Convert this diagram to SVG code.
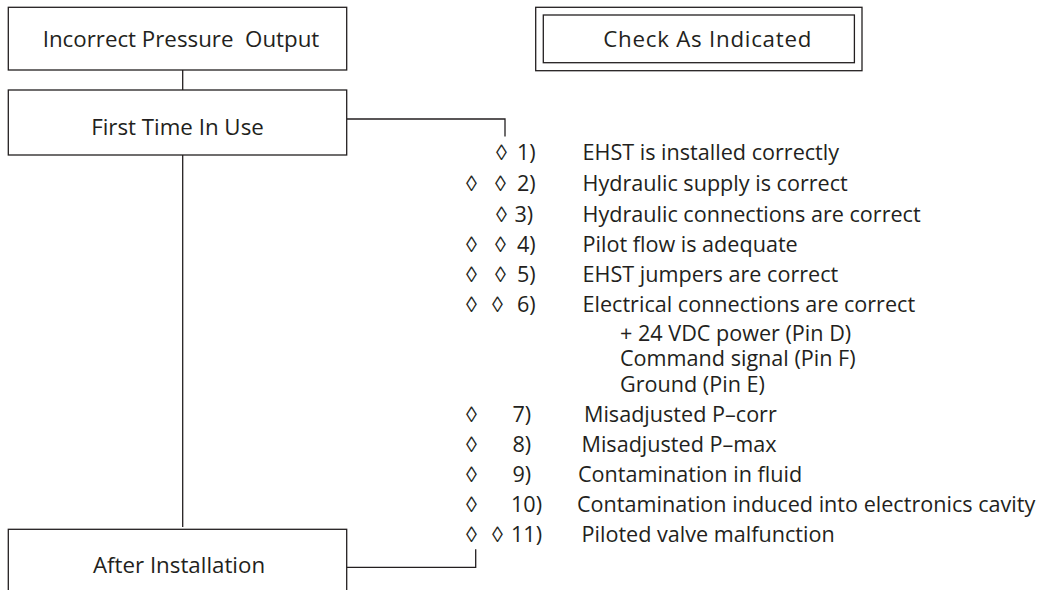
<svg xmlns="http://www.w3.org/2000/svg" width="1046" height="590" viewBox="0 0 1046 590">
  <style>
    .box { fill: #ffffff; stroke: #231f20; stroke-width: 1.3; }
    .wire { fill: none; stroke: #231f20; stroke-width: 1.3; }
    .lbl { font-family: "Open Sans", "Liberation Sans", sans-serif; font-size: 21.6px; fill: #231f20; white-space: pre; }
    .ttl { font-family: "Open Sans", "Liberation Sans", sans-serif; font-size: 22.3px; fill: #231f20; white-space: pre; }
    .dia { font-family: "Liberation Sans", "DejaVu Sans", sans-serif; font-size: 22px; fill: #231f20; }
  </style>
  <rect width="1046" height="590" fill="#ffffff"/>

  <!-- connectors -->
  <g id="connectors">
    <line class="wire" x1="182.7" y1="70" x2="182.7" y2="90"/>
    <line class="wire" x1="182.7" y1="155" x2="182.7" y2="527"/>
    <polyline class="wire" points="346.7,119 505,119 505,136.5"/>
    <polyline class="wire" points="346.7,567.3 475.7,567.3 475.7,549.3"/>
  </g>

  <!-- flow boxes -->
  <g id="node-incorrect-pressure">
    <rect class="box" x="8.3" y="7.3" width="338.4" height="62.7"/>
    <text class="ttl" x="42.7" y="46.7">Incorrect Pressure  Output</text>
  </g>
  <g id="node-first-time">
    <rect class="box" x="8.3" y="90" width="338.4" height="65"/>
    <text class="ttl" x="177.5" y="135" text-anchor="middle">First Time In Use</text>
  </g>
  <g id="node-after-installation">
    <rect class="box" x="8.3" y="529.3" width="338.4" height="70"/>
    <text class="ttl" x="179" y="572.7" text-anchor="middle">After Installation</text>
  </g>
  <g id="node-legend">
    <rect class="box" x="535.7" y="7.3" width="326.3" height="63.4"/>
    <rect class="box" x="543.3" y="15" width="311.1" height="47.7"/>
    <text class="ttl" x="603.3" y="46.7" letter-spacing="0.75">Check As Indicated</text>
  </g>

  <!-- checklist -->
  <g id="checklist">
    <text class="dia" x="496" y="160">◊</text>
    <text class="lbl" x="517" y="160">1)</text>
    <text class="lbl" x="582.5" y="160">EHST is installed correctly</text>

    <text class="dia" x="466" y="191">◊</text>
    <text class="dia" x="495" y="191">◊</text>
    <text class="lbl" x="517" y="191">2)</text>
    <text class="lbl" x="582.5" y="191">Hydraulic supply is correct</text>

    <text class="dia" x="496" y="221.5">◊</text>
    <text class="lbl" x="514.5" y="221.5">3)</text>
    <text class="lbl" x="582.5" y="221.5">Hydraulic connections are correct</text>

    <text class="dia" x="466" y="251.5">◊</text>
    <text class="dia" x="495" y="251.5">◊</text>
    <text class="lbl" x="517" y="251.5">4)</text>
    <text class="lbl" x="582.5" y="251.5">Pilot flow is adequate</text>

    <text class="dia" x="466" y="281.5">◊</text>
    <text class="dia" x="495" y="281.5">◊</text>
    <text class="lbl" x="517" y="281.5">5)</text>
    <text class="lbl" x="582.5" y="281.5">EHST jumpers are correct</text>

    <text class="dia" x="466" y="311.5">◊</text>
    <text class="dia" x="492" y="311.5">◊</text>
    <text class="lbl" x="517" y="311.5">6)</text>
    <text class="lbl" x="582.5" y="311.5">Electrical connections are correct</text>
    <text class="lbl" x="620" y="340.5">+ 24 VDC power (Pin D)</text>
    <text class="lbl" x="620" y="366">Command signal (Pin F)</text>
    <text class="lbl" x="620" y="391.5">Ground (Pin E)</text>

    <text class="dia" x="466" y="421.5">◊</text>
    <text class="lbl" x="512.5" y="421.5">7)</text>
    <text class="lbl" x="584" y="421.5">Misadjusted P–corr</text>

    <text class="dia" x="466" y="451.5">◊</text>
    <text class="lbl" x="512.5" y="451.5">8)</text>
    <text class="lbl" x="581.5" y="451.5">Misadjusted P–max</text>

    <text class="dia" x="466" y="481.5">◊</text>
    <text class="lbl" x="512.5" y="481.5">9)</text>
    <text class="lbl" x="578" y="481.5">Contamination in fluid</text>

    <text class="dia" x="466" y="511.5">◊</text>
    <text class="lbl" x="511" y="511.5">10)</text>
    <text class="lbl" x="577" y="511.5">Contamination induced into electronics cavity</text>

    <text class="dia" x="466" y="541.5">◊</text>
    <text class="dia" x="492" y="541.5">◊</text>
    <text class="lbl" x="511" y="541.5">11)</text>
    <text class="lbl" x="581.5" y="541.5">Piloted valve malfunction</text>
  </g>
</svg>
